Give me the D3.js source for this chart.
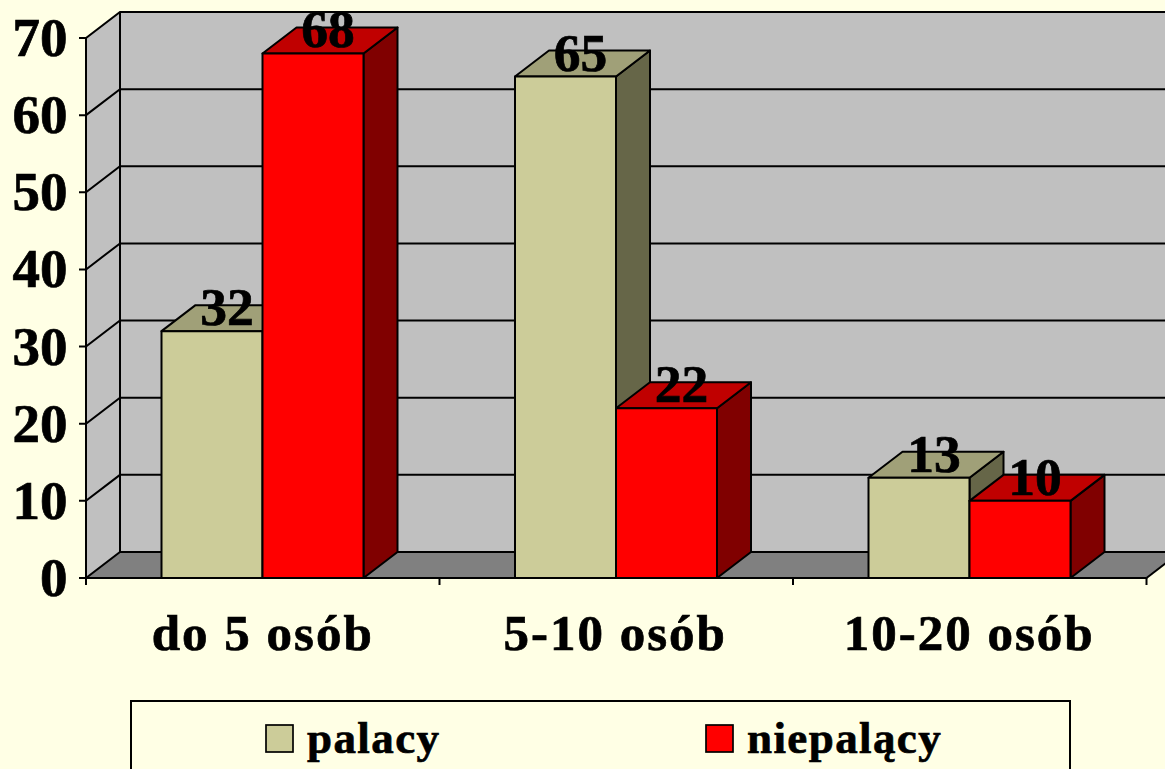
<!DOCTYPE html>
<html><head><meta charset="utf-8">
<style>html,body{margin:0;padding:0;background:#ffffe5;overflow:hidden}svg{display:block}text{font-family:"Liberation Serif",serif;font-weight:bold;fill:#000;stroke:#000;stroke-width:0.7px}</style>
<script src="https://cdn.jsdelivr.net/npm/d3@7"></script></head><body>
<script>
const categories = ["do 5 osób","5-10 osób","10-20 osób"];
const seriesNames = ["palacy","niepalący"];
const palacy = [32,65,13];
const niepalacy = [68,22,10];
const yTicks = [0,10,20,30,40,50,60,70];

const W=1165,H=769;
const svg=d3.select("body").append("svg").attr("width",W).attr("height",H);
svg.append("rect").attr("width",W).attr("height",H).attr("fill","#ffffe5");
const dx=34,dy=-26;
const y=d3.scaleLinear().domain([0,70]).range([578,38]);
const x0=d3.scaleBand().domain(categories).range([86,1146.5]);
const x1=d3.scaleBand().domain(seriesNames).range([-0.25,x0.bandwidth()-0.25]).paddingInner(0).paddingOuter(0.75);
const colors={palacy:{front:"#cccc99",top:"#a0a078",side:"#666648"},"niepalący":{front:"#ff0000",top:"#c00000",side:"#800000"}};
const line="#000";
const poly=(pts)=>pts.map(p=>p.join(",")).join(" ");
const xL=x0.range()[0],xR=x0.range()[1];

// walls and floor
svg.append("polygon").attr("points",poly([[xL+dx,y(70)+dy],[xR+dx,y(70)+dy],[xR+dx,y(0)+dy],[xL+dx,y(0)+dy]])).attr("fill","#c0c0c0");
svg.append("polygon").attr("points",poly([[xL,y(0)],[xL+dx,y(0)+dy],[xL+dx,y(70)+dy],[xL,y(70)]])).attr("fill","#c0c0c0");
svg.append("polygon").attr("points",poly([[xL,y(0)],[xL+dx,y(0)+dy],[xR+dx,y(0)+dy],[xR,y(0)]])).attr("fill","#808080");
const grid=svg.append("g").attr("fill","none").attr("stroke",line).attr("stroke-width",2);
yTicks.forEach(t=>{
  grid.append("polyline").attr("points",poly([[xL-7,y(t)],[xL,y(t)],[xL+dx,y(t)+dy],[xR+dx,y(t)+dy]]));
});
grid.append("line").attr("x1",xL).attr("x2",xL).attr("y1",y(0)+7).attr("y2",y(70));
grid.append("line").attr("x1",xL+dx).attr("x2",xL+dx).attr("y1",y(0)+dy).attr("y2",y(70)+dy);
grid.append("line").attr("x1",xL).attr("x2",xR).attr("y1",y(0)).attr("y2",y(0));
grid.append("line").attr("x1",xR).attr("x2",xR+dx).attr("y1",y(0)).attr("y2",y(0)+dy);
categories.forEach(c=>{
  grid.append("line").attr("x1",x0(c)+x0.bandwidth()).attr("x2",x0(c)+x0.bandwidth()).attr("y1",y(0)).attr("y2",y(0)+7);
});

// bars
const bars=svg.append("g").attr("stroke",line).attr("stroke-width",2).attr("stroke-linejoin","round");
const labels=[];
categories.forEach((c,i)=>{
  [palacy[i],niepalacy[i]].forEach((v,j)=>{
    const s=seriesNames[j],l=x0(c)+x1(s),r=l+x1.bandwidth(),t=y(v),b=y(0);
    bars.append("polygon").attr("points",poly([[r,b],[r+dx,b+dy],[r+dx,t+dy],[r,t]])).attr("fill",colors[s].side);
    bars.append("polygon").attr("points",poly([[l,t],[l+dx,t+dy],[r+dx,t+dy],[r,t]])).attr("fill",colors[s].top);
    bars.append("rect").attr("x",l).attr("y",t).attr("width",r-l).attr("height",b-t).attr("fill",colors[s].front);
    labels.push({v,cx:(l+r)/2+15,y:t-6});
  });
});
svg.append("g").selectAll("text").data(labels).join("text")
  .attr("x",d=>d.cx).attr("y",d=>d.y).attr("text-anchor","middle").attr("font-size",53.5).text(d=>d.v);

// axis labels
svg.append("g").selectAll("text").data(yTicks).join("text")
  .attr("x",67.5).attr("y",d=>y(d)+18).attr("text-anchor","end").attr("font-size",55).text(d=>d);
const catShift=[0,-1,-0.5];
svg.append("g").selectAll("text").data(categories).join("text")
  .attr("x",(c,i)=>x0(c)+x0.bandwidth()/2+catShift[i]).attr("y",650).attr("text-anchor","middle")
  .attr("font-size",51).attr("letter-spacing",2).text(c=>c);

// legend
svg.append("rect").attr("x",131).attr("y",701).attr("width",939).attr("height",100).attr("fill","#ffffe5").attr("stroke",line).attr("stroke-width",2);
const lx=[266,706];
seriesNames.forEach((s,i)=>{
  svg.append("rect").attr("x",lx[i]).attr("y",725).attr("width",27).attr("height",27).attr("fill",colors[s].front).attr("stroke",line).attr("stroke-width",1.7);
  svg.append("text").attr("x",lx[i]+41).attr("y",753).attr("font-size",45).attr("letter-spacing",1.4).text(s);
});
</script></body></html>
